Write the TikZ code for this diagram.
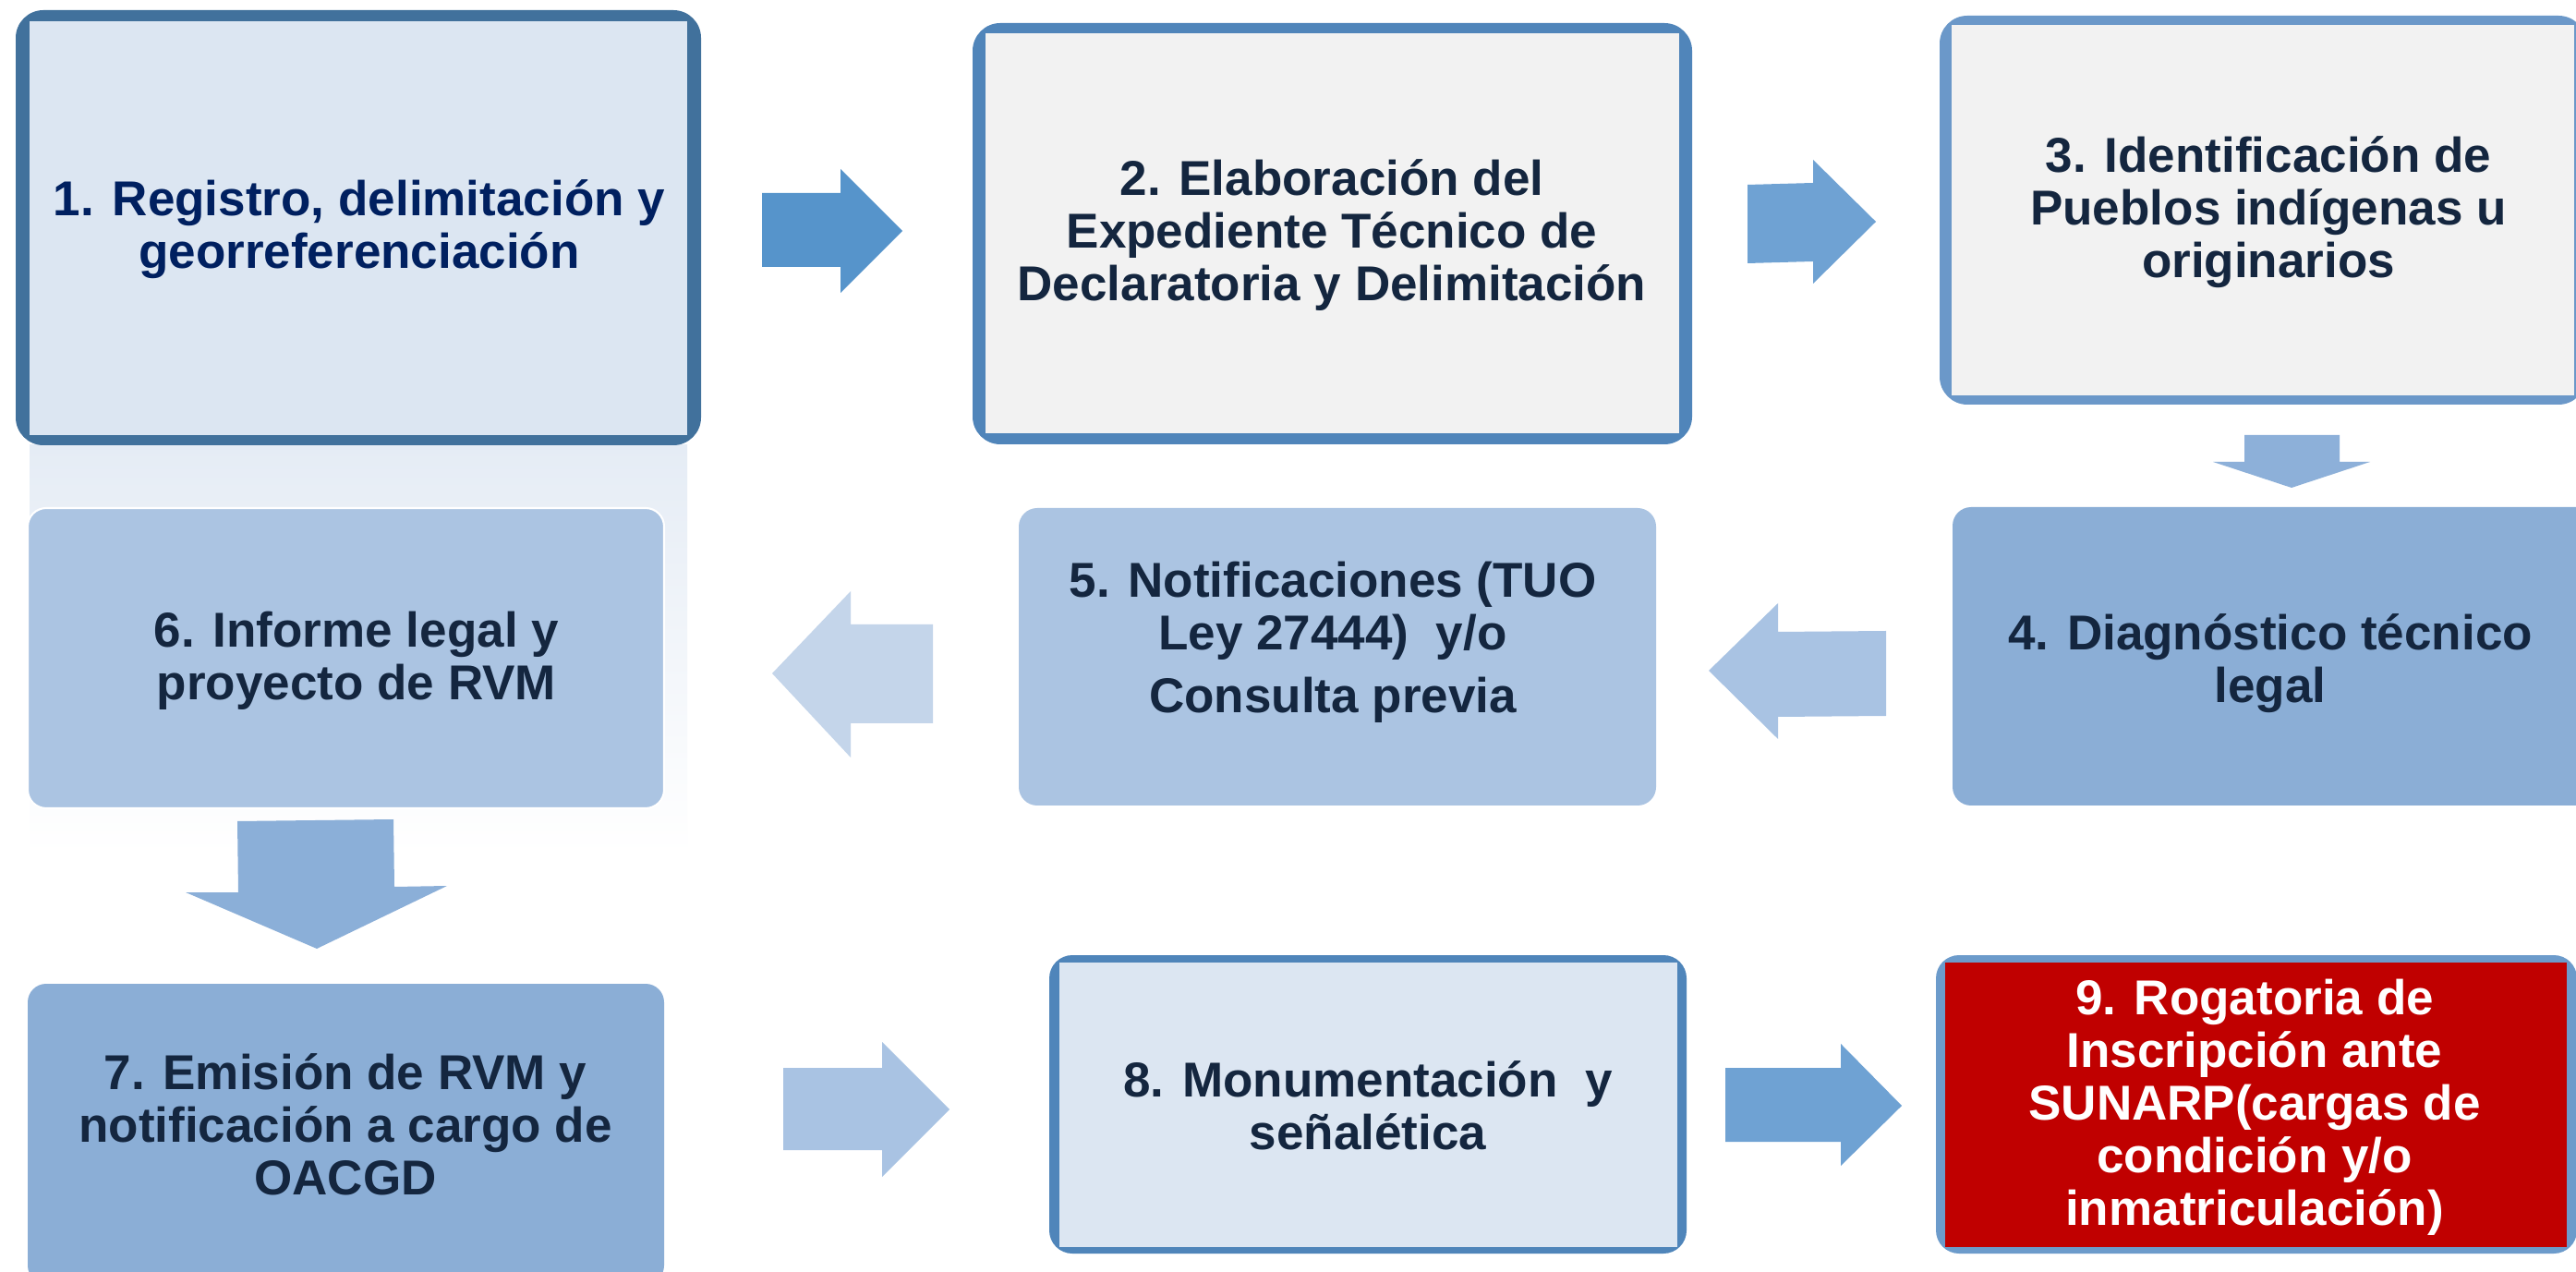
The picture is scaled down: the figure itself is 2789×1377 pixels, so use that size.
\documentclass[tikz,border=0pt]{standalone}
\usepackage{fontspec}
\setmainfont{Liberation Sans}
\definecolor{bAborder}{RGB}{65,113,156}
\definecolor{bAfill}{RGB}{220,230,242}
\definecolor{navy}{HTML}{002060}
\definecolor{bBborder}{RGB}{80,133,186}
\definecolor{grayfill}{HTML}{F2F2F2}
\definecolor{bCborder}{RGB}{107,152,201}
\definecolor{midfill}{RGB}{139,174,214}
\definecolor{lightfill}{RGB}{171,196,226}
\definecolor{bHborder}{RGB}{79,133,186}
\definecolor{bIborder}{RGB}{108,155,203}
\definecolor{redfill}{HTML}{C00000}
\definecolor{dtext}{RGB}{20,38,63}
\definecolor{reflc}{RGB}{229,236,245}
\definecolor{arA}{RGB}{86,148,203}
\definecolor{arB}{RGB}{111,162,211}
\definecolor{arC}{RGB}{141,176,217}
\definecolor{arD}{RGB}{169,195,227}
\definecolor{arE}{RGB}{196,213,234}
\definecolor{arF}{RGB}{139,175,216}
\tikzset{
  txt/.style={font=\fontsize{15.08}{16.2}\selectfont\bfseries, align=center, text=dtext, inner sep=0pt},
  solidbox/.style={rounded corners=0.2cm},
  outerbox/.style={rounded corners=0.3cm},
}
\begin{document}
\begin{tikzpicture}[x=0.01cm,y=-0.01cm]
\useasboundingbox (0,0) rectangle (2789,1377);
\clip (0,0) rectangle (2789,1377);
\fill[white] (0,0) rectangle (2789,1377);

% reflection under box 1
\shade[top color=reflc, bottom color=white] (32,482) rectangle (744,925);

% Box 1
\fill[bAborder, outerbox] (17,11) rectangle (759,482);
\fill[bAfill] (32,23) rectangle (744,471);
\node[txt, text=navy] (b1) at (389,248) {1. Registro, delimitación y\\georreferenciación};

% Box 2
\fill[bBborder, outerbox] (1053,25) rectangle (1832,481);
\fill[grayfill] (1067,36) rectangle (1818,469);
\node[txt] (b2) at (1442,255) {2. Elaboración del\\Expediente Técnico de\\Declaratoria y Delimitación};

% Box 3
\fill[bCborder, outerbox] (2100,17) rectangle (2800,438);
\fill[grayfill] (2113,27) rectangle (2787,428);
\node[txt] (b3) at (2456,230) {3. Identificación de\\Pueblos indígenas u\\originarios};

% Box 4
\fill[midfill, solidbox] (2114,549) rectangle (2810,872);
\node[txt] (b4) at (2458,718) {4. Diagnóstico técnico\\legal};

% Box 5
\fill[lightfill, solidbox] (1103,550) rectangle (1793,872);
\node[txt] (b5) at (1443,695) {5. Notificaciones (TUO\\Ley 27444)\ \ y/o\\[3.1pt]Consulta previa};

% Box 6
\filldraw[fill=lightfill, draw=white, line width=0.6pt, solidbox] (30,550) rectangle (719,875);
\node[txt] (b6) at (386,715) {6. Informe legal y\\proyecto de RVM};

% Box 7
\fill[midfill, solidbox] (30,1065) rectangle (719,1390);
\node[txt] (b7) at (374,1217) {7. Emisión de RVM y\\notificación a cargo de\\OACGD};

% Box 8
\fill[bHborder, rounded corners=0.25cm] (1136,1034) rectangle (1826,1357);
\fill[bAfill] (1147,1042) rectangle (1816,1350);
\node[txt] (b8) at (1481,1197) {8. Monumentación\ \ y\\señalética};

% Box 9
\fill[bIborder, rounded corners=0.25cm] (2096,1034) rectangle (2790,1357);
\fill[redfill] (2106,1042) rectangle (2779,1350);
\node[txt, text=white] (b9) at (2441,1199) {9. Rogatoria de\\Inscripción ante\\SUNARP(cargas de\\condición y/o\\inmatriculación)};

% Block arrows
\fill[arA] (825,209) -- (910,209) -- (910,183) -- (977,250) -- (910,317) -- (910,289) -- (825,289) -- cycle;
\fill[arB] (1892,200) -- (1963,198) -- (1963,173) -- (2031,240) -- (1963,307) -- (1963,283) -- (1892,285) -- cycle;
\fill[arC] (2430,471) -- (2533,471) -- (2533,500) -- (2566,500) -- (2481,528) -- (2396,500) -- (2430,500) -- cycle;
\fill[arD] (2042,683) -- (1925,684) -- (1925,653) -- (1850,726) -- (1925,800) -- (1925,776) -- (2042,775) -- cycle;
\fill[arE] (1010,676) -- (921,676) -- (921,640) -- (836,729) -- (921,820) -- (921,783) -- (1010,783) -- cycle;
\fill[arF] (257,889) -- (426,887) -- (427,960) -- (484,959) -- (343,1027) -- (201,966) -- (258,966) -- cycle;
\fill[arD] (848,1156) -- (955,1156) -- (955,1128) -- (1028,1201) -- (955,1274) -- (955,1245) -- (848,1245) -- cycle;
\fill[arB] (1868,1156) -- (1993,1156) -- (1993,1130) -- (2059,1197) -- (1993,1262) -- (1993,1236) -- (1868,1236) -- cycle;
\end{tikzpicture}
\end{document}
